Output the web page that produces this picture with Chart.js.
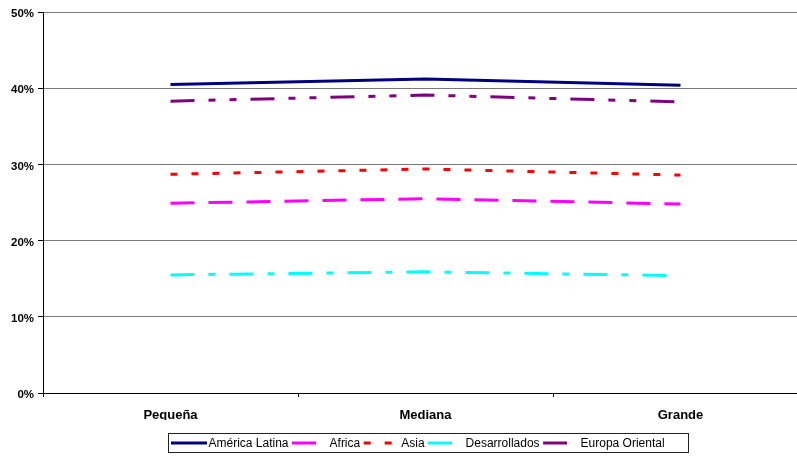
<!DOCTYPE html>
<html>
<head>
<meta charset="utf-8">
<script src="https://cdn.jsdelivr.net/npm/chart.js@4/dist/chart.umd.min.js"></script>
<style>
    html, body { margin: 0; padding: 0; background: #fff; overflow: hidden; }
    #wrap { position: relative; width: 810px; height: 456px; }
</style>
</head>
<body>
<div id="wrap"><canvas id="chart"></canvas></div>
<script>
// Categories and series (percent)
const categories = ['Pequeña', 'Mediana', 'Grande'];
const americaLatina = [40.5, 41.2, 40.4];
const africa = [24.9, 25.5, 24.8];
const asia = [28.7, 29.4, 28.6];
const desarrollados = [15.5, 15.9, 15.4];
const europaOriental = [38.3, 39.1, 38.2];
const yTicks = [0, 10, 20, 30, 40, 50];

const FONT = 'Arial, "Liberation Sans", sans-serif';

// Boxed legend drawn under the plot, like the original
const boxLegend = {
    id: 'boxLegend',
    afterDraw(chart) {
        const ctx = chart.ctx;
        const y = 443;
        ctx.save();
        ctx.strokeStyle = '#222';
        ctx.lineWidth = 1;
        ctx.setLineDash([]);
        ctx.strokeRect(168.5, 433.5, 520, 19);

        ctx.font = '12px ' + FONT;
        ctx.textBaseline = 'middle';
        ctx.fillStyle = '#000';
        let x = 171;
        chart.data.datasets.forEach(ds => {
            ctx.beginPath();
            ctx.strokeStyle = ds.borderColor;
            ctx.lineWidth = ds.borderWidth;
            ctx.setLineDash(ds.borderDash || []);
            ctx.moveTo(x, y);
            ctx.lineTo(x + 36, y);
            ctx.stroke();
            ctx.setLineDash([]);
            x += 37.5;
            ctx.fillText(ds.label, x, y + 1);
            x += ctx.measureText(ds.label).width + 3.5;
        });
        ctx.restore();
    }
};

function series(label, data, color, dash) {
    return {
        label: label,
        data: data,
        borderColor: color,
        backgroundColor: color,
        borderWidth: 3,
        borderDash: dash,
        borderCapStyle: 'butt',
        pointRadius: 0,
        tension: 0,
        fill: false
    };
}

new Chart(document.getElementById('chart'), {
    type: 'line',
    data: {
        labels: categories,
        datasets: [
            series('América Latina', americaLatina, '#000080', []),
            series('Africa', africa, '#ff00ff', [24, 14]),
            series('Asia', asia, '#ff0000', [7, 14]),
            series('Desarrollados', desarrollados, '#00ffff', [24, 14, 7, 14]),
            series('Europa Oriental', europaOriental, '#800080', [24, 14, 7, 14, 7, 14])
        ]
    },
    options: {
        responsive: true,
        maintainAspectRatio: false,
        animation: false,
        layout: { padding: { top: 12, right: 2, bottom: 36, left: 0 } },
        plugins: {
            legend: { display: false },
            tooltip: { enabled: false }
        },
        scales: {
            x: {
                offset: true,
                grid: {
                    offset: true,
                    drawOnChartArea: false,
                    drawTicks: true,
                    tickLength: 4,
                    color: '#000'
                },
                border: { color: '#000', width: 1 },
                ticks: {
                    color: '#000',
                    padding: 11,
                    font: { family: FONT, size: 13, weight: 'bold' },
                    maxRotation: 0
                },
                afterFit(scale) { scale.height = 27; }
            },
            y: {
                min: 0,
                max: 50,
                afterBuildTicks(scale) {
                    scale.ticks = yTicks.map(v => ({ value: v }));
                },
                grid: {
                    color: '#777',
                    lineWidth: 1,
                    drawTicks: true,
                    tickLength: 5,
                    tickColor: '#000'
                },
                border: { color: '#000', width: 1 },
                ticks: {
                    color: '#000',
                    padding: 4,
                    labelOffset: 2,
                    font: { family: FONT, size: 11.5, weight: 'bold' },
                    callback: v => v + '%'
                },
                afterFit(scale) { scale.width = 43; }
            }
        }
    },
    plugins: [boxLegend]
});
</script>
</body>
</html>
